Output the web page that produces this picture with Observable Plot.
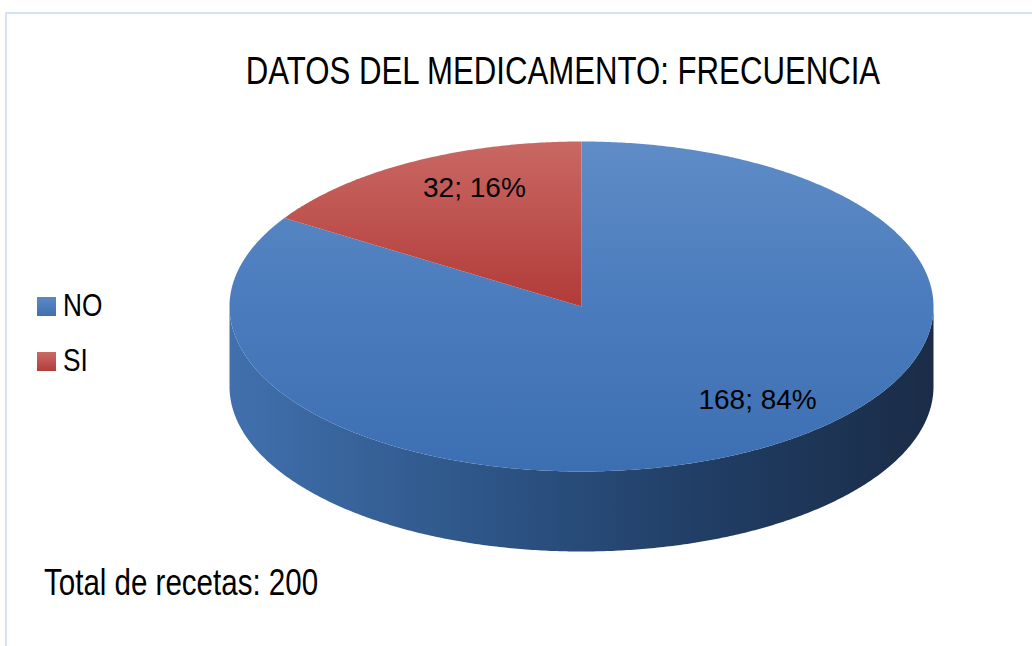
<!DOCTYPE html>
<html>
<head>
<meta charset="utf-8">
<script src="https://cdn.jsdelivr.net/npm/d3@7"></script>
<script src="https://cdn.jsdelivr.net/npm/@observablehq/plot@0.6"></script>
<style>
  html, body { margin: 0; padding: 0; background: #fff; width: 1032px; height: 646px; overflow: hidden; }
  .frame { position: absolute; left: 5px; top: 12px; width: 1100px; height: 700px;
           border-top: 2px solid #d3e2f4; border-left: 2px solid #d3e2f4; }
  .narrow { font-family: "Liberation Sans", Arial, sans-serif; color: #000; }
  #title { position: absolute; left: 0; width: 1126px; top: 52px; text-align: center; font-size: 38px; line-height: 38px; white-space: nowrap;
           transform: scaleX(0.82); transform-origin: 563px 0; }
  #legend { position: absolute; left: 37px; top: 0; }
  .item { position: absolute; left: 0; white-space: nowrap; font-size: 32px; line-height: 32px; }
  .lbl { position: absolute; left: 26px; top: 0; transform: scaleX(0.82); transform-origin: 0 0; }
  .sw { position: absolute; width: 19px; height: 19px; }
  #caption { position: absolute; left: 44px; top: 565px; font-size: 36px; line-height: 36px; white-space: nowrap;
             transform: scaleX(0.82); transform-origin: 0 0; }
  #chart { position: absolute; left: 0; top: 0; }
</style>
</head>
<body>
<div class="frame"></div>
<div id="chart"></div>
<div id="title" class="narrow"></div>
<div id="legend" class="narrow"></div>
<div id="caption" class="narrow"></div>
<script>
// ---- data ----
const title = "DATOS DEL MEDICAMENTO: FRECUENCIA";
const categories = ["NO", "SI"];
const values = [168, 32];
const captionText = "Total de recetas: 200";

// ---- styles ----
const topFills = {NO: "url(#gTopBlue)", SI: "url(#gTopRed)"};
const swatch = {NO: "linear-gradient(#5b89c4,#3f70b0)", SI: "linear-gradient(#cc6a66,#b23d3a)"};
const depth = 0.485; // in y units (radius = 1)

const total = d3.sum(values);
const pie = d3.pie().sort(null).value(d => d.value);
const arcs = pie(categories.map((c, i) => ({category: c, value: values[i]})));

const pt = (a, r = 1, dy = 0) => ({x: r * Math.sin(a), y: r * Math.cos(a) - dy});
const step = Math.PI / 360;

// top faces
const topPts = [];
for (const a of arcs) {
  const c = a.data.category;
  topPts.push({...pt(0, 0), category: c});
  for (let t = a.startAngle; t < a.endAngle; t += step) topPts.push({...pt(t), category: c});
  topPts.push({...pt(a.endAngle), category: c});
}

// side wall (front half only)
const sidePts = [];
for (const a of arcs) {
  const s = Math.max(a.startAngle, Math.PI / 2), e = Math.min(a.endAngle, 3 * Math.PI / 2);
  if (e <= s) continue;
  const c = a.data.category;
  const ring = [];
  for (let t = s; t < e; t += step) ring.push(t);
  ring.push(e);
  for (const t of ring) sidePts.push({...pt(t), category: c});
  for (const t of ring.slice().reverse()) sidePts.push({...pt(t, 1, depth), category: c});
}

// labels
const labelR = 0.72;
const labels = arcs.map(a => {
  const m = (a.startAngle + a.endAngle) / 2;
  return {...pt(m, labelR), category: a.data.category,
          text: `${a.data.value}; ${Math.round(100 * a.data.value / total)}%`};
});

const plot = Plot.plot({
  width: 1032,
  height: 646,
  margin: 0,
  x: {domain: [-1, 1], range: [229, 933], axis: null},
  y: {domain: [-1, 1], range: [471, 141], axis: null},
  marks: [
    Plot.line(sidePts, {x: "x", y: "y", z: "category", fill: "url(#gSide)", stroke: "none", curve: "linear"}),
    ...categories.map(c => Plot.line(topPts.filter(d => d.category === c),
      {x: "x", y: "y", fill: topFills[c], stroke: "none"})),
    Plot.text(labels.filter(d => d.category === "SI"), {x: "x", y: "y", text: "text", dx: 15, dy: -14,
      fontSize: 28, fill: "#000", fontFamily: "Liberation Sans, Arial, sans-serif"}),
    Plot.text(labels.filter(d => d.category === "NO"), {x: "x", y: "y", text: "text", dx: 54, dy: -11,
      fontSize: 28, fill: "#000", fontFamily: "Liberation Sans, Arial, sans-serif"})
  ]
});

const defs = d3.select(plot).insert("defs", ":first-child");
function grad(id, horizontal, stops) {
  const g = defs.append("linearGradient").attr("id", id)
    .attr("x1", 0).attr("y1", 0).attr("x2", horizontal ? 1 : 0).attr("y2", horizontal ? 0 : 1);
  for (const [o, c] of stops) g.append("stop").attr("offset", o).attr("stop-color", c);
}
grad("gTopBlue", false, [[0, "#5f8cc6"], [0.5, "#4a7bbd"], [1, "#3c6fb2"]]);
grad("gTopRed", false, [[0, "#c96864"], [1, "#b23b38"]]);
grad("gSide", true, [[0, "#4170ad"], [0.35, "#2e5688"], [0.65, "#213f67"], [1, "#1a2c47"]]);

document.getElementById("chart").appendChild(plot);

document.getElementById("title").textContent = title;
document.getElementById("caption").textContent = captionText;
const legend = document.getElementById("legend");
const legendTops = [289, 344];
categories.forEach((c, i) => {
  const it = document.createElement("div");
  it.className = "item";
  it.style.top = legendTops[i] + "px";
  it.innerHTML = `<span class="sw" style="left:0;top:8px;background:${swatch[c]}"></span><span class="lbl">${c}</span>`;
  legend.appendChild(it);
});
</script>
</body>
</html>
